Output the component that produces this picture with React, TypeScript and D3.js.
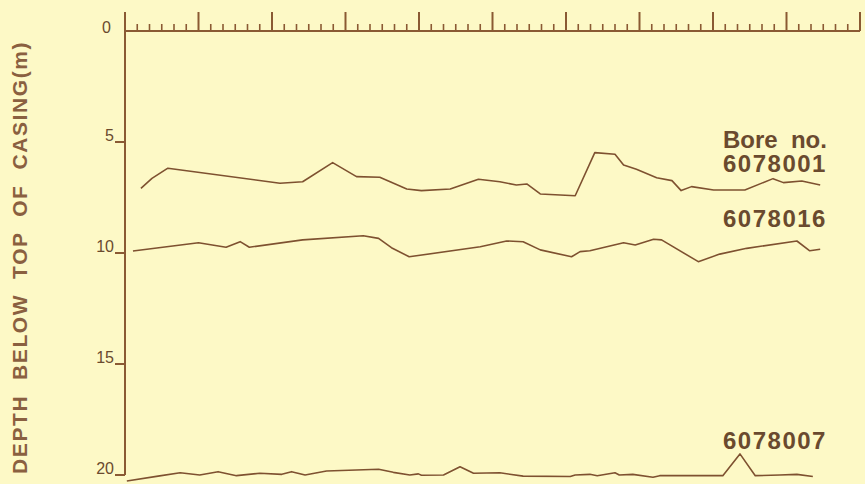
import React from "react";
import * as d3 from "d3";

// x in months from start (major tick = 12 months, minor = 2 months); y = depth below top of casing (m)
const bore6078001X = [2.6, 4.4, 7.0, 25.3, 29.0, 33.9, 37.8, 41.6, 46.0, 48.4, 53.1, 57.7, 61.2, 63.9, 65.6, 67.8, 73.5, 76.7, 80.0, 81.4, 83.5, 86.8, 89.3, 90.8, 92.5, 96.1, 101.2, 105.8, 107.5, 110.5, 113.5];
const bore6078001Y = [7.09, 6.64, 6.18, 6.86, 6.79, 5.93, 6.56, 6.59, 7.12, 7.19, 7.12, 6.68, 6.79, 6.94, 6.89, 7.34, 7.42, 5.48, 5.55, 6.04, 6.23, 6.61, 6.74, 7.19, 7.01, 7.16, 7.16, 6.65, 6.83, 6.76, 6.94];

const bore6078016X = [1.3, 12.0, 16.5, 18.8, 20.3, 29.0, 38.9, 41.4, 43.5, 46.4, 58.0, 62.3, 65.0, 67.8, 72.9, 74.3, 75.9, 81.4, 83.3, 86.3, 87.6, 93.6, 97.1, 101.5, 109.7, 111.8, 113.5];
const bore6078016Y = [9.91, 9.54, 9.74, 9.49, 9.74, 9.41, 9.22, 9.34, 9.76, 10.17, 9.72, 9.46, 9.49, 9.86, 10.17, 9.94, 9.90, 9.54, 9.64, 9.38, 9.41, 10.39, 10.05, 9.79, 9.46, 9.90, 9.83];

const bore6078007X = [0.3, 5.4, 9.0, 12.2, 15.2, 18.2, 22.0, 25.6, 27.2, 29.4, 32.9, 41.4, 43.8, 46.5, 47.9, 48.4, 52.0, 54.7, 56.9, 61.2, 65.0, 72.7, 73.5, 75.9, 77.1, 80.0, 80.7, 82.9, 86.2, 87.3, 97.6, 100.4, 102.9, 106.9, 109.7, 112.3];
const bore6078007Y = [20.27, 20.05, 19.9, 20.0, 19.85, 20.03, 19.92, 19.97, 19.85, 20.0, 19.82, 19.74, 19.88, 20.0, 19.95, 20.01, 20.0, 19.63, 19.92, 19.9, 20.05, 20.07, 20.0, 19.97, 20.03, 19.9, 20.0, 19.97, 20.1, 20.03, 20.03, 19.05, 20.03, 20.0, 19.97, 20.07];

const depthTicks = [5, 10, 15, 20];
const seriesLabels = ["6078001", "6078016", "6078007"];
const seriesLabelDepth = [6.35, 8.85, 18.85];
const headerLabel = "Bore  no.";
const headerDepth = 5.25;
const yAxisTitle = "DEPTH  BELOW  TOP  OF  CASING(m)";

const W = 865;
const H = 484;
const BG = "#fdf9c6";
const AXIS = "#8a5a33";
const LINE = "#7e5130";
const TEXT = "#6a4a2e";
const FONT = "Liberation Sans, Arial, sans-serif";

export default function App() {
  const x = d3.scaleLinear().domain([0, 120]).range([125, 860]);
  const y = d3.scaleLinear().domain([0, 20]).range([31, 475]);

  const line = d3
    .line<[number, number]>()
    .x((d) => x(d[0]))
    .y((d) => y(d[1]));

  const series = [
    d3.zip(bore6078001X, bore6078001Y) as [number, number][],
    d3.zip(bore6078016X, bore6078016Y) as [number, number][],
    d3.zip(bore6078007X, bore6078007Y) as [number, number][],
  ];

  const minor = d3.range(0, 121, 2);
  const axisY = y(0);
  const labelRight = x(114.6);

  return (
    <div style={{ position: "absolute", left: 0, top: 0 }}>
      <svg width={W} height={H} style={{ display: "block", background: BG }}>
        <rect x={0} y={0} width={W} height={H} fill={BG} />
        {/* top time axis */}
        <line x1={x(0)} x2={x(120)} y1={axisY} y2={axisY} stroke={AXIS} strokeWidth={2} />
        {minor.map((m) => {
          const major = m % 12 === 0;
          return (
            <line
              key={m}
              x1={x(m)}
              x2={x(m)}
              y1={axisY}
              y2={axisY - (major ? 19 : 7)}
              stroke={AXIS}
              strokeWidth={major ? 2 : 1.6}
            />
          );
        })}
        {/* left depth axis */}
        <line x1={x(0)} x2={x(0)} y1={axisY - 19} y2={y(20)} stroke={AXIS} strokeWidth={2} />
        {depthTicks.map((t) => (
          <g key={t}>
            <line x1={x(0) - 10} x2={x(0)} y1={y(t)} y2={y(t)} stroke={AXIS} strokeWidth={2} />
            <text x={x(0) - 11} y={y(t) - 1} textAnchor="end" fontFamily={FONT} fontSize={16} fill={TEXT}>
              {t}
            </text>
          </g>
        ))}
        <text x={x(0) - 14} y={axisY + 2} textAnchor="end" fontFamily={FONT} fontSize={16} fill={TEXT}>
          0
        </text>
        <text
          transform={`translate(19, ${y(10.2)}) rotate(-90)`}
          textAnchor="middle"
          fontFamily={FONT}
          fontSize={21}
          fontWeight="bold"
          letterSpacing={1.6}
          fill="#8a6040"
          style={{ whiteSpace: "pre" }}
          dominantBaseline="central"
        >
          {yAxisTitle}
        </text>
        {/* series */}
        {series.map((s, i) => (
          <path key={i} d={line(s) ?? ""} fill="none" stroke={LINE} strokeWidth={1.6} strokeLinejoin="round" />
        ))}
        {/* labels */}
        <text
          x={labelRight}
          y={y(headerDepth)}
          textAnchor="end"
          fontFamily={FONT}
          fontSize={24}
          fontWeight="bold"
          fill={TEXT}
          style={{ whiteSpace: "pre" }}
        >
          {headerLabel}
        </text>
        {seriesLabels.map((lab, i) => (
          <text
            key={lab}
            x={labelRight}
            y={y(seriesLabelDepth[i])}
            textAnchor="end"
            fontFamily={FONT}
            fontSize={24}
            fontWeight="bold"
            letterSpacing={1.5}
            fill={TEXT}
          >
            {lab}
          </text>
        ))}
      </svg>
    </div>
  );
}
